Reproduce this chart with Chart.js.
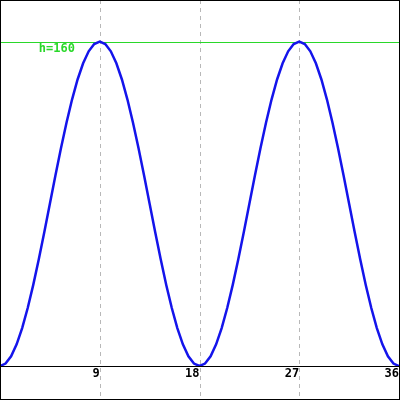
<!DOCTYPE html>
<html><head><meta charset="utf-8">
<script src="https://cdn.jsdelivr.net/npm/chart.js@4/dist/chart.umd.min.js"></script>
<style>html,body{margin:0;padding:0;background:#fff}canvas{display:block}</style>
</head><body>
<canvas id="c" width="400" height="400"></canvas>
<script>
const times = [0,0.5,1,1.5,2,2.5,3,3.5,4,4.5,5,5.5,6,6.5,7,7.5,8,8.5,9,9.5,10,10.5,11,11.5,12,12.5,13,13.5,14,14.5,15,15.5,16,16.5,17,17.5,18,
  18.5,19,19.5,20,20.5,21,21.5,22,22.5,23,23.5,24,24.5,25,25.5,26,26.5,27,27.5,28,28.5,29,29.5,30,30.5,31,31.5,32,32.5,33,33.5,34,34.5,35,35.5,36];
const heights = [0,1.2,4.8,10.7,18.7,28.6,40,52.6,66.1,80,93.9,107.4,120,131.4,141.3,149.3,155.2,158.8,160,158.8,155.2,149.3,141.3,131.4,120,107.4,93.9,80,66.1,52.6,40,28.6,18.7,10.7,4.8,1.2,0,
  1.2,4.8,10.7,18.7,28.6,40,52.6,66.1,80,93.9,107.4,120,131.4,141.3,149.3,155.2,158.8,160,158.8,155.2,149.3,141.3,131.4,120,107.4,93.9,80,66.1,52.6,40,28.6,18.7,10.7,4.8,1.2,0];
const tickValues = [9,18,27,36];
const tickLabels = ['9','18','27','36'];
const refValue = 160;
const refLabel = 'h=160';
const refLabelX = 3.5;

const points = times.map((t,i)=>({x:t,y:heights[i]}));

const framePlugin = {
  id:'frame',
  beforeDatasetsDraw(chart){
    const {ctx, scales:{x,y}, width, height} = chart;
    ctx.save();
    ctx.strokeStyle = '#b8b8b8';
    ctx.lineWidth = 1;
    ctx.setLineDash([4,4]);
    tickValues.forEach(v=>{
      if (v >= x.max) return;
      const px = Math.round(x.getPixelForValue(v)) + 0.5;
      ctx.beginPath(); ctx.moveTo(px,0); ctx.lineTo(px,height); ctx.stroke();
    });
    ctx.setLineDash([]);
    const ry = Math.round(y.getPixelForValue(refValue)) + 0.5;
    ctx.strokeStyle = '#2ad82a';
    ctx.beginPath(); ctx.moveTo(0,ry); ctx.lineTo(width,ry); ctx.stroke();
    const ay = Math.round(y.getPixelForValue(0)) + 0.5;
    ctx.strokeStyle = '#000';
    ctx.beginPath(); ctx.moveTo(0,ay); ctx.lineTo(width,ay); ctx.stroke();
    ctx.fillStyle = '#2ad82a';
    ctx.font = 'bold 12px "DejaVu Sans Mono", monospace';
    ctx.textBaseline = 'top';
    ctx.textAlign = 'left';
    ctx.fillText(refLabel, x.getPixelForValue(refLabelX), ry + 0.5);
    ctx.restore();
  },
  afterDraw(chart){
    const {ctx, width, height} = chart;
    ctx.save();
    ctx.strokeStyle = '#000';
    ctx.lineWidth = 1;
    ctx.strokeRect(0.5,0.5,width-1,height-1);
    ctx.restore();
  }
};

new Chart(document.getElementById('c'), {
  type:'line',
  data:{datasets:[{data:points, borderColor:'rgb(20,20,235)', borderWidth:2.5, pointRadius:0, tension:0, fill:false}]},
  options:{
    responsive:false, animation:false,
    layout:{padding:0},
    plugins:{legend:{display:false}, tooltip:{enabled:false}},
    scales:{
      x:{type:'linear', min:0, max:36,
        afterBuildTicks:s=>{s.ticks = tickValues.map(v=>({value:v}));},
        ticks:{align:'end', padding:1, color:'#000', autoSkip:false, maxRotation:0,
          font:{family:'DejaVu Sans Mono', size:12, weight:'bold'},
          callback:v=>tickLabels[tickValues.indexOf(v)]},
        grid:{display:false, drawTicks:false},
        border:{display:false},
        afterFit:s=>{s.height = 34;}
      },
      y:{display:false, min:0, max:180.5}
    }
  },
  plugins:[framePlugin]
});
</script>
</body></html>
